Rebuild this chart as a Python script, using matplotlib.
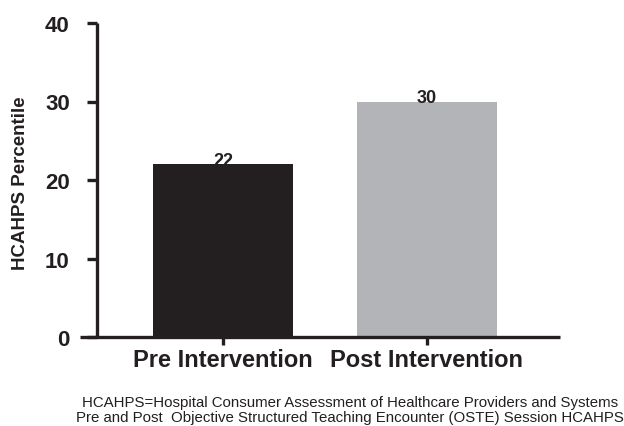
import matplotlib
matplotlib.use("Agg")
import matplotlib.pyplot as plt

categories = ["Pre Intervention", "Post Intervention"]
values = [22, 30]
bar_labels = ["22", "30"]
yticks = [0, 10, 20, 30, 40]
colors = ["#231f20", "#b3b4b8"]
caption = ["HCAHPS=Hospital Consumer Assessment of Healthcare Providers and Systems",
           "Pre and Post  Objective Structured Teaching Encounter (OSTE) Session HCAHPS"]

plt.rcParams['font.family'] = ['Liberation Sans', 'DejaVu Sans']
ink = '#231f20'

fig = plt.figure(figsize=(6.24, 4.27), dpi=100)
ax = fig.add_axes([80/624, 1-338/427, (560-80)/624, (338-24)/427])
x = list(range(len(categories)))
ax.bar(x, values, width=0.686, color=colors, zorder=2)
ax.set_xlim(-0.701, 1.652)
ax.set_ylim(0, 40)
for s in ['top', 'right']:
    ax.spines[s].set_visible(False)
ax.spines['left'].set_position(('data', -0.618))
for s in ['left', 'bottom']:
    ax.spines[s].set_linewidth(2.4)
    ax.spines[s].set_color(ink)
    ax.spines[s].set_capstyle('butt')
ax.set_yticks(yticks)
ax.set_yticklabels([str(t) for t in yticks], fontsize=16, fontweight='bold', color=ink)
ax.tick_params(axis='y', length=7.5, width=2.4, color=ink, pad=12)
ax.set_xticks(x)
ax.set_xticklabels(categories, fontsize=17, fontweight='bold', color=ink)
ax.tick_params(axis='x', length=6, width=2.4, color=ink, pad=2)
for xi, v, lab in zip(x, values, bar_labels):
    ax.text(xi, v - 0.1, lab, ha='center', va='baseline', fontsize=13, fontweight='bold', color=ink, zorder=3)
ax.set_ylabel("HCAHPS Percentile", fontsize=13.5, fontweight='bold', color=ink)
ax.yaxis.label.set_va('center')
ax.yaxis.set_label_coords(-0.123, 0.494)
fig.text(350/624, 1-403/427, caption[0], ha='center', va='center', fontsize=10.8, color=ink)
fig.text(350/624, 1-418/427, caption[1], ha='center', va='center', fontsize=10.8, color=ink)
fig.savefig("out.png", dpi=100)
